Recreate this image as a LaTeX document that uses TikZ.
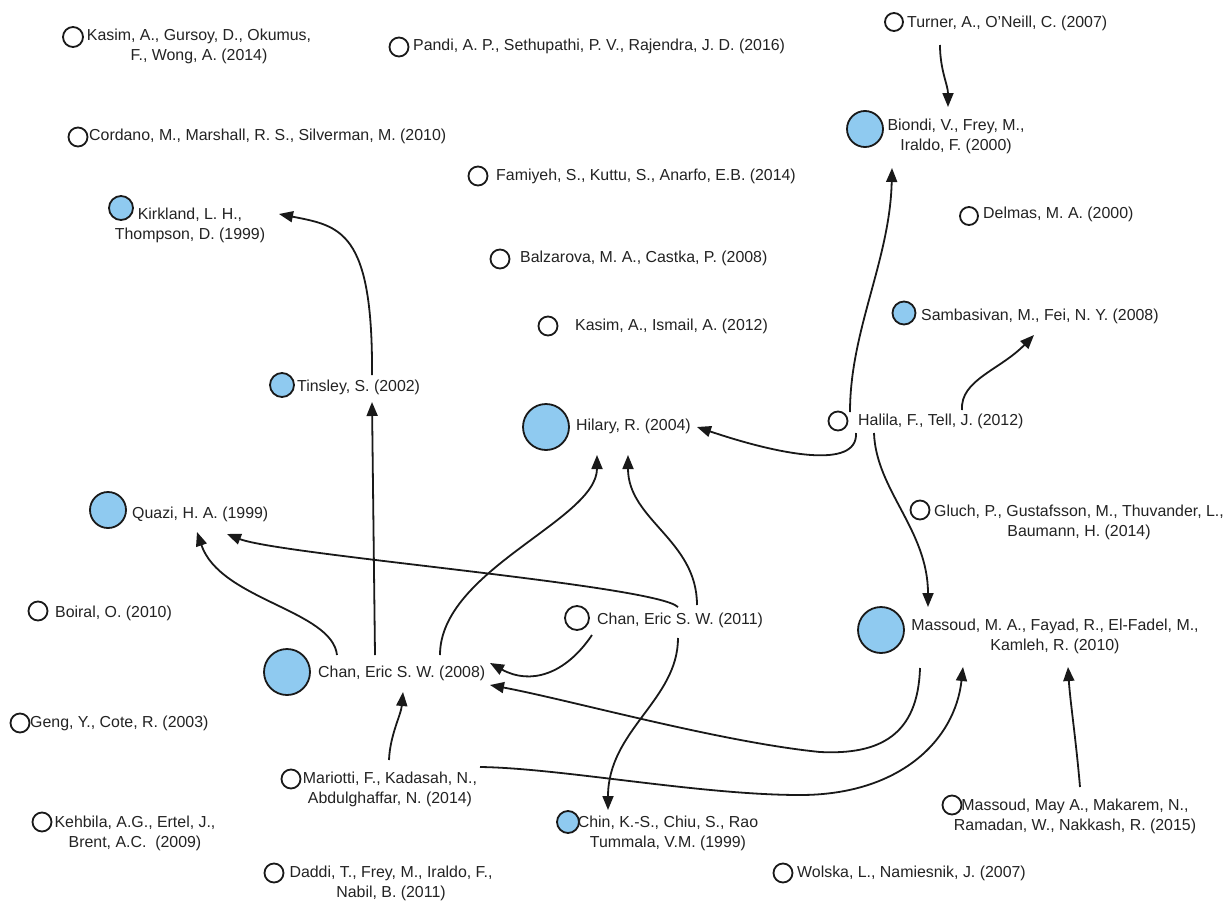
\documentclass[tikz,border=0pt]{standalone}
\usepackage{fontspec}
\setmainfont{Liberation Sans}
\usetikzlibrary{arrows.meta}
\definecolor{nodeblue}{RGB}{143,202,240}
\definecolor{ink}{RGB}{25,25,25}
\definecolor{txt}{RGB}{35,35,35}
\begin{document}
\begin{tikzpicture}[x=1pt,y=-1pt,
  font=\fontsize{15.9}{20}\selectfont,
  pap/.style={circle,draw=ink,line width=1.8pt,inner sep=0pt,fill=white},
  bluepap/.style={pap,fill=nodeblue},
  lbl/.style={inner sep=0pt,text=txt,anchor=west},
  lbltwo/.style={inner sep=0pt,text=txt,align=center},
  arr/.style={line width=1.8pt,draw=ink,-{Triangle[length=14pt,width=11pt]}}]
\fill[white] (0,0) rectangle (1232,905);
\useasboundingbox (0,0) rectangle (1232,905);

% circles
\node[pap,minimum size=20pt] (ckas14) at (73,37) {};
\node[pap,minimum size=19pt] (cpan) at (399,47) {};
\node[pap,minimum size=19pt] (ccor) at (78,137) {};
\node[bluepap,minimum size=24pt] (ckir) at (121,208) {};
\node[pap,minimum size=19pt] (cfam) at (478,176) {};
\node[pap,minimum size=19pt] (cbal) at (500,259) {};
\node[pap,minimum size=19pt] (ckas12) at (548,326) {};
\node[pap,minimum size=18pt] (ctur) at (894,22) {};
\node[bluepap,minimum size=36pt] (cbio) at (865,129) {};
\node[pap,minimum size=18pt] (cdel) at (969,216) {};
\node[bluepap,minimum size=23pt] (csam) at (904,313) {};
\node[bluepap,minimum size=24pt] (ctin) at (282,385) {};
\node[bluepap,minimum size=46pt] (chil) at (546,427) {};
\node[pap,minimum size=19pt] (chal) at (838,421) {};
\node[bluepap,minimum size=36pt] (cqua) at (108,510) {};
\node[pap,minimum size=19pt] (cglu) at (920,510) {};
\node[pap,minimum size=19pt] (cboi) at (38,611) {};
\node[pap,minimum size=24pt] (cc11) at (577,618) {};
\node[bluepap,minimum size=46pt] (cmas10) at (881,630) {};
\node[bluepap,minimum size=46pt] (cc08) at (287,672) {};
\node[pap,minimum size=19pt] (cgen) at (20,723) {};
\node[pap,minimum size=19pt] (cmar) at (291,779) {};
\node[pap,minimum size=19pt] (ckeh) at (42,822) {};
\node[bluepap,minimum size=22pt] (cchin) at (568,822) {};
\node[pap,minimum size=19pt] (cdad) at (274,873) {};
\node[pap,minimum size=19pt] (cwol) at (783,873) {};
\node[pap,minimum size=19pt] (cmas15) at (952,805) {};

% labels
\node[lbltwo] (kas14) at (199,46) {Kasim, A., Gursoy, D., Okumus,\\F., Wong, A. (2014)};
\node[lbl] (pan) at (413,46) {Pandi, A. P., Sethupathi, P. V., Rajendra, J. D. (2016)};
\node[lbl] (cor) at (89,136) {Cordano, M., Marshall, R. S., Silverman, M. (2010)};
\node[lbltwo] (kir) at (190,225) {Kirkland, L. H.,\\Thompson, D. (1999)};
\node[lbl] (fam) at (496,176) {Famiyeh, S., Kuttu, S., Anarfo, E.B. (2014)};
\node[lbl] (bal) at (520,258) {Balzarova, M. A., Castka, P. (2008)};
\node[lbl] (kas12) at (575,326) {Kasim, A., Ismail, A. (2012)};
\node[lbl] (tur) at (907,23) {Turner, A., O'Neill, C. (2007)};
\node[lbltwo] (bio) at (956,136) {Biondi, V., Frey, M.,\\Iraldo, F. (2000)};
\node[lbl] (del) at (983,214) {Delmas, M. A. (2000)};
\node[lbl] (sam) at (921,316) {Sambasivan, M., Fei, N. Y. (2008)};
\node[lbl] (tin) at (297,387) {Tinsley, S. (2002)};
\node[lbl] (hil) at (576,426) {Hilary, R. (2004)};
\node[lbl] (hal) at (858,421) {Halila, F., Tell, J. (2012)};
\node[lbl] (qua) at (132,514) {Quazi, H. A. (1999)};
\node[lbltwo] (glu) at (1079,522) {Gluch, P., Gustafsson, M., Thuvander, L.,\\Baumann, H. (2014)};
\node[lbl] (boi) at (55,613) {Boiral, O. (2010)};
\node[lbl] (c11) at (597,620) {Chan, Eric S. W. (2011)};
\node[lbltwo] (mas10) at (1055,636) {Massoud, M. A., Fayad, R., El-Fadel, M.,\\Kamleh, R. (2010)};
\node[lbl] (c08) at (318,673) {Chan, Eric S. W. (2008)};
\node[lbl] (gen) at (30,723) {Geng, Y., Cote, R. (2003)};
\node[lbltwo] (mar) at (390,789) {Mariotti, F., Kadasah, N.,\\Abdulghaffar, N. (2014)};
\node[lbltwo] (keh) at (135,833) {Kehbila, A.G., Ertel, J.,\\Brent, A.C.\ \ (2009)};
\node[lbltwo] (chin) at (668,833) {Chin, K.-S., Chiu, S., Rao\\Tummala, V.M. (1999)};
\node[lbltwo] (dad) at (391,883) {Daddi, T., Frey, M., Iraldo, F.,\\Nabil, B. (2011)};
\node[lbl] (wol) at (797,873) {Wolska, L., Namiesnik, J. (2007)};
\node[lbltwo] (mas15) at (1075,816) {Massoud, May A., Makarem, N.,\\Ramadan, W., Nakkash, R. (2015)};

% connectors
\draw[arr] ([shift={(46,23)}]ctur.center) .. controls (940,70) and (948,85) .. ([shift={(83,-22)}]cbio.center);
\draw[arr] ([shift={(90,-10)}]ctin.center) .. controls (373,230) and (340,226) .. ([shift={(158,6)}]ckir.center);
\draw[arr] ([shift={(88,-17)}]cc08.center) -- ([shift={(90,17)}]ctin.center);
\draw[arr] ([shift={(50,-17)}]cc08.center) .. controls (332,610) and (220,600) .. ([shift={(89,22)}]cqua.center);
\draw[arr] ([shift={(101,-11)}]cc11.center) .. controls (655,585) and (280,555) .. ([shift={(119,24)}]cqua.center);
\draw[arr] ([shift={(153,-17)}]cc08.center) .. controls (440,570) and (597,520) .. ([shift={(51,28)}]chil.center);
\draw[arr] ([shift={(120,-13)}]cc11.center) .. controls (697,540) and (628,520) .. ([shift={(82,28)}]chil.center);
\draw[arr] ([shift={(15,17)}]cc11.center) .. controls (565,675) and (530,685) .. ([shift={(203,-9)}]cc08.center);
\draw[arr] ([shift={(39,38)}]cmas10.center) .. controls (918,735) and (880,755) .. (820,752) .. controls (720,742) and (570,700) .. ([shift={(203,13)}]cc08.center);
\draw[arr] ([shift={(189,-12)}]cmar.center) .. controls (560,768) and (700,795) .. (800,795) .. controls (900,795) and (955,740) .. ([shift={(82,37)}]cmas10.center);
\draw[arr] ([shift={(98,-19)}]cmar.center) .. controls (390,735) and (401,715) .. ([shift={(116,20)}]cc08.center);
\draw[arr] ([shift={(101,20)}]cc11.center) .. controls (678,700) and (608,730) .. ([shift={(40,-12)}]cchin.center);
\draw[arr] ([shift={(18,12)}]chal.center) .. controls (858,470) and (780,455) .. ([shift={(151,0)}]chil.center);
\draw[arr] ([shift={(12,-9)}]chal.center) .. controls (850,330) and (890,260) .. ([shift={(27,39)}]cbio.center);
\draw[arr] ([shift={(124,-11)}]chal.center) .. controls (960,380) and (1000,370) .. ([shift={(130,22)}]csam.center);
\draw[arr] ([shift={(36,12)}]chal.center) .. controls (876,490) and (928,530) .. ([shift={(47,-23)}]cmas10.center);
\draw[arr] ([shift={(128,-18)}]cmas15.center) .. controls (1076,740) and (1070,700) .. ([shift={(187,37)}]cmas10.center);
\end{tikzpicture}
\end{document}
